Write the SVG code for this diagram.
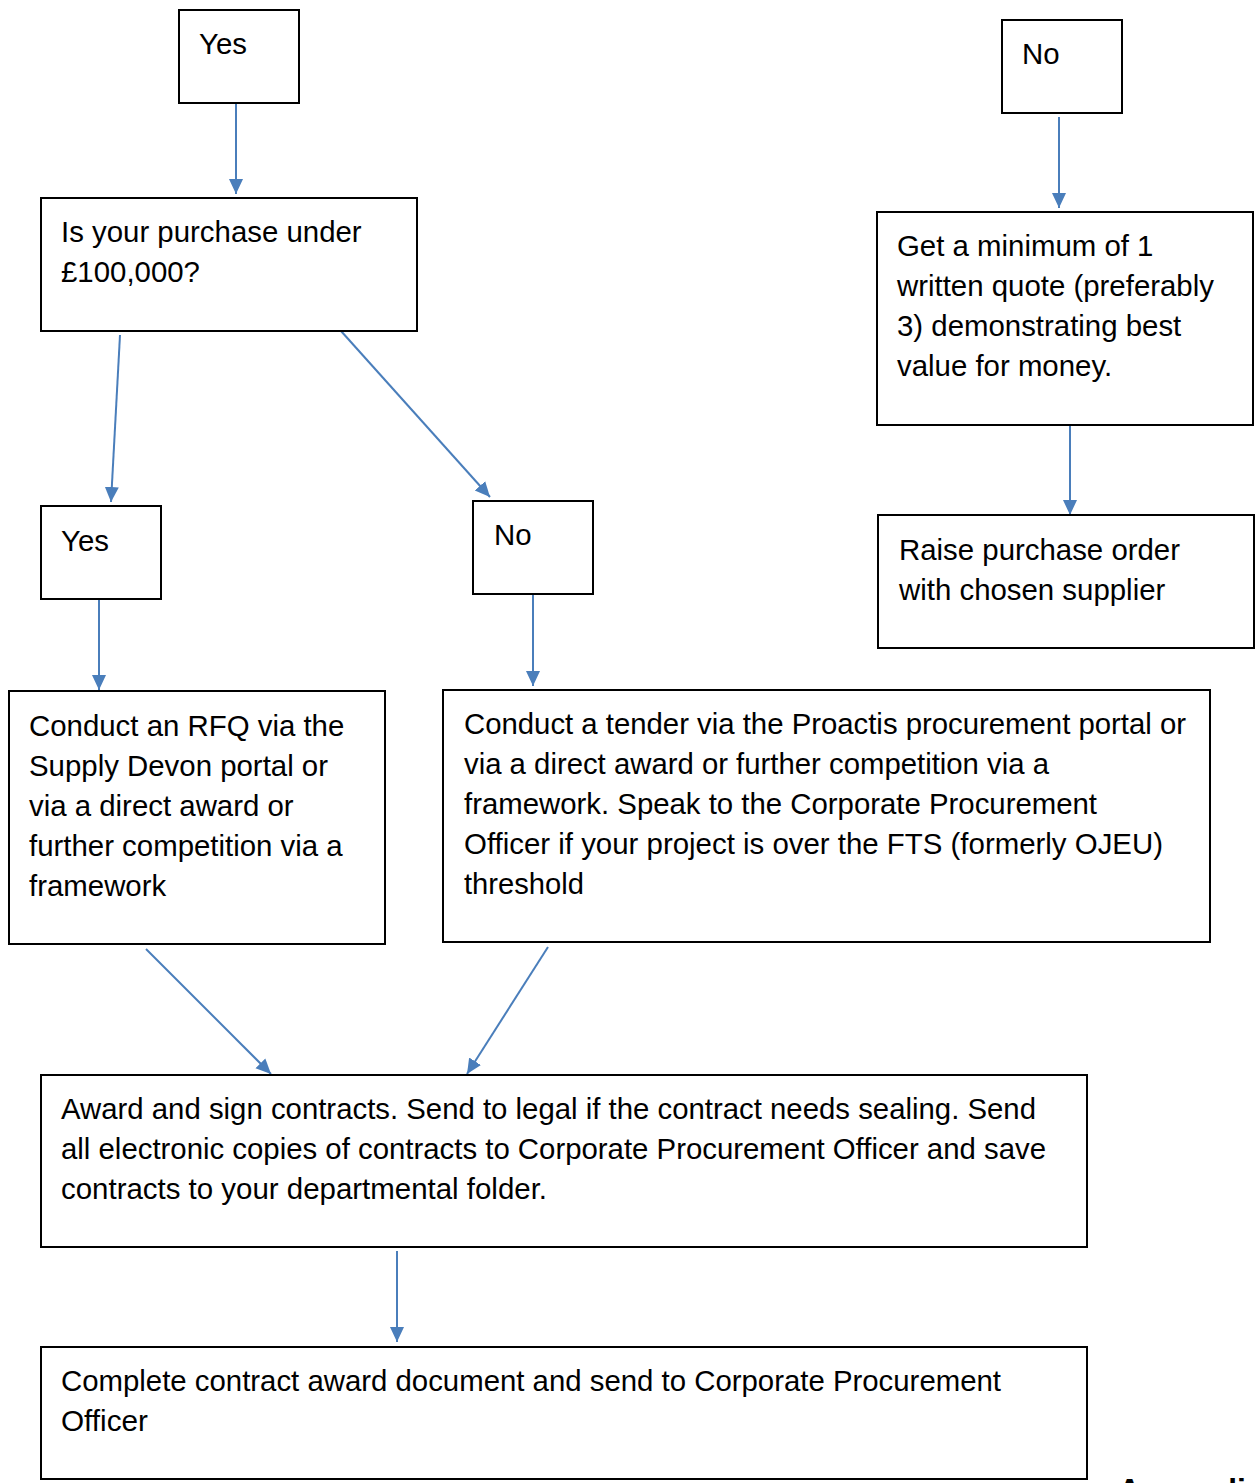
<svg xmlns="http://www.w3.org/2000/svg" width="1256" height="1483" viewBox="0 0 1256 1483">
<style>
.box{fill:#fff;stroke:#000;stroke-width:2}
.t{font-family:"Liberation Sans",Arial,sans-serif;font-size:29.4px;fill:#000}
.c{stroke:#4A7EBB;stroke-width:2;fill:none;marker-end:url(#ah)}
.app{font-family:"Liberation Sans",Arial,sans-serif;font-size:32px;font-weight:bold;fill:#000}
</style>
<defs>
<marker id="ah" markerUnits="userSpaceOnUse" markerWidth="16" markerHeight="16" viewBox="0 0 16 16" refX="15" refY="8" orient="auto">
<path d="M0,1 L15,8 L0,15 Z" fill="#4A7EBB"/>
</marker>
</defs>
<rect width="1256" height="1483" fill="#fff"/>
<g id="connectors">
<line class="c" x1="236" y1="103" x2="236" y2="194"/>
<line class="c" x1="120" y1="335" x2="111" y2="502"/>
<line class="c" x1="341" y1="331" x2="490" y2="497"/>
<line class="c" x1="99" y1="600" x2="99" y2="690"/>
<line class="c" x1="533" y1="595" x2="533" y2="686"/>
<line class="c" x1="146" y1="949" x2="271" y2="1074"/>
<line class="c" x1="548" y1="947" x2="467" y2="1074"/>
<line class="c" x1="397" y1="1251" x2="397" y2="1342"/>
<line class="c" x1="1059" y1="117" x2="1059" y2="208"/>
<line class="c" x1="1070" y1="425" x2="1070" y2="515"/>
</g>
<g id="yes1">
<rect class="box" x="179" y="10" width="120" height="93"/>
<text class="t" x="199" y="54">Yes</text>
</g>
<g id="under100k">
<rect class="box" x="41" y="198" width="376" height="133"/>
<text class="t" x="61" y="242">Is your purchase under</text>
<text class="t" x="61" y="282">£100,000?</text>
</g>
<g id="yes2">
<rect class="box" x="41" y="506" width="120" height="93"/>
<text class="t" x="61" y="551">Yes</text>
</g>
<g id="no2">
<rect class="box" x="473" y="501" width="120" height="93"/>
<text class="t" x="494" y="545">No</text>
</g>
<g id="rfq">
<rect class="box" x="9" y="691" width="376" height="253"/>
<text class="t" x="29" y="736">Conduct an RFQ via the</text>
<text class="t" x="29" y="776">Supply Devon portal or</text>
<text class="t" x="29" y="816">via a direct award or</text>
<text class="t" x="29" y="856">further competition via a</text>
<text class="t" x="29" y="896">framework</text>
</g>
<g id="tender">
<rect class="box" x="443" y="690" width="767" height="252"/>
<text class="t" x="464" y="734" textLength="722" lengthAdjust="spacingAndGlyphs">Conduct a tender via the Proactis procurement portal or</text>
<text class="t" x="464" y="774" textLength="585" lengthAdjust="spacingAndGlyphs">via a direct award or further competition via a</text>
<text class="t" x="464" y="814" textLength="633" lengthAdjust="spacingAndGlyphs">framework. Speak to the Corporate Procurement</text>
<text class="t" x="464" y="854" textLength="699" lengthAdjust="spacingAndGlyphs">Officer if your project is over the FTS (formerly OJEU)</text>
<text class="t" x="464" y="894" textLength="120" lengthAdjust="spacingAndGlyphs">threshold</text>
</g>
<g id="award">
<rect class="box" x="41" y="1075" width="1046" height="172"/>
<text class="t" x="61" y="1119" textLength="975" lengthAdjust="spacingAndGlyphs">Award and sign contracts. Send to legal if the contract needs sealing. Send</text>
<text class="t" x="61" y="1159" textLength="985" lengthAdjust="spacingAndGlyphs">all electronic copies of contracts to Corporate Procurement Officer and save</text>
<text class="t" x="61" y="1199" textLength="486" lengthAdjust="spacingAndGlyphs">contracts to your departmental folder.</text>
</g>
<g id="complete">
<rect class="box" x="41" y="1347" width="1046" height="132"/>
<text class="t" x="61" y="1391" textLength="940" lengthAdjust="spacingAndGlyphs">Complete contract award document and send to Corporate Procurement</text>
<text class="t" x="61" y="1431" textLength="87" lengthAdjust="spacingAndGlyphs">Officer</text>
</g>
<g id="no1">
<rect class="box" x="1002" y="20" width="120" height="93"/>
<text class="t" x="1022" y="64">No</text>
</g>
<g id="quote">
<rect class="box" x="877" y="212" width="376" height="213"/>
<text class="t" x="897" y="256">Get a minimum of 1</text>
<text class="t" x="897" y="296">written quote (preferably</text>
<text class="t" x="897" y="336">3) demonstrating best</text>
<text class="t" x="897" y="376">value for money.</text>
</g>
<g id="raise">
<rect class="box" x="878" y="515" width="376" height="133"/>
<text class="t" x="899" y="560">Raise purchase order</text>
<text class="t" x="899" y="600">with chosen supplier</text>
</g>
<text class="app" x="1118" y="1501">Appendix</text>
</svg>
